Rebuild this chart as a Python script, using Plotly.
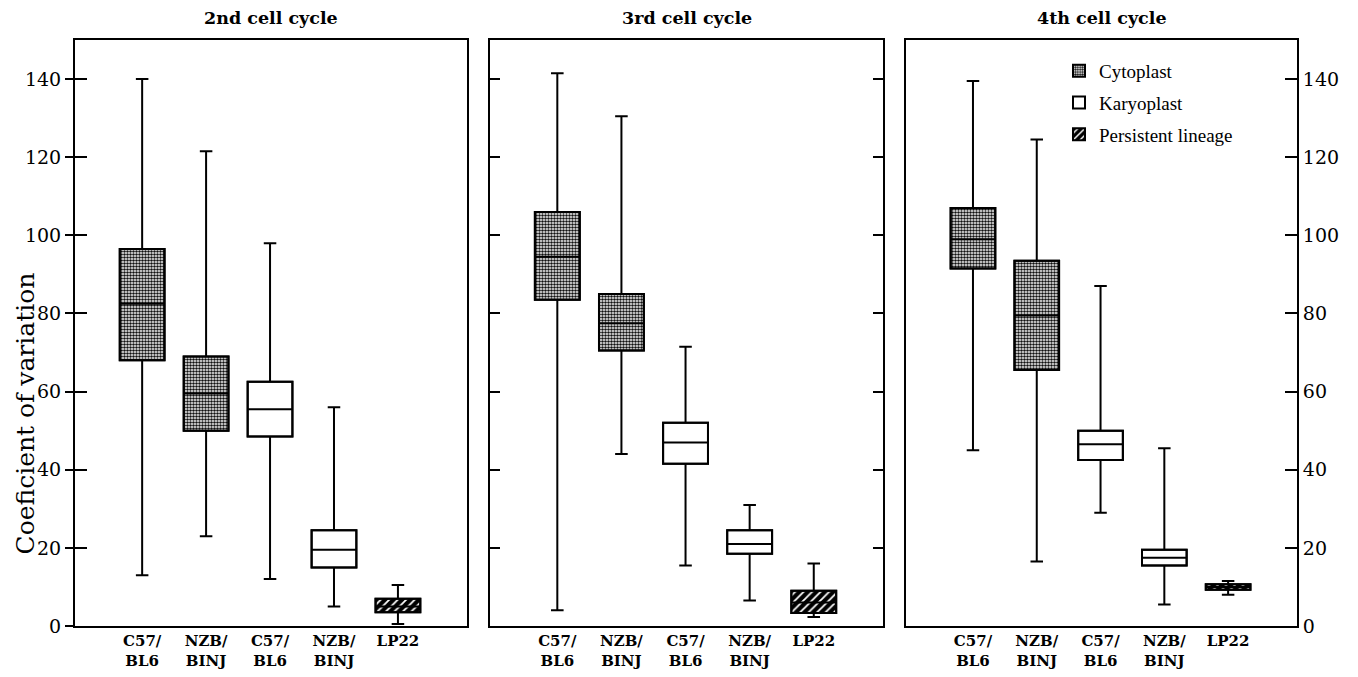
import plotly.graph_objects as go

# page is 1358x677; the HTML body has an 8px margin, so the figure is drawn 8px in
PAGE_W, PAGE_H, OFF = 1358, 677, 8
W, H = PAGE_W - 2 * OFF, PAGE_H - 2 * OFF


def fx(px):
    return (px - OFF) / W


def fy(py):
    return (H - (py - OFF)) / H


panel_titles = ["2nd cell cycle", "3rd cell cycle", "4th cell cycle"]
categories = ["C57/<br>BL6", "NZB/<br>BINJ", "C57/<br>BL6", "NZB/<br>BINJ", "LP22"]
groups = ["Cytoplast", "Cytoplast", "Karyoplast", "Karyoplast", "Persistent lineage"]

# per panel: lists over the 5 categories
upper_p1 = [140, 121.5, 98, 56, 10.5]
q3_p1 = [96.5, 69, 62.5, 24.5, 7]
med_p1 = [82.5, 59.5, 55.5, 19.5, 5]
q1_p1 = [68, 50, 48.5, 15, 3.5]
lower_p1 = [13, 23, 12, 5, 0.5]

upper_p2 = [141.5, 130.5, 71.5, 31, 16]
q3_p2 = [106, 85, 52, 24.5, 9]
med_p2 = [94.5, 77.5, 47, 21, 6]
q1_p2 = [83.5, 70.5, 41.5, 18.5, 3.3]
lower_p2 = [4, 44, 15.5, 6.5, 2.3]

upper_p3 = [139.5, 124.5, 87, 45.5, 11.5]
q3_p3 = [107, 93.5, 50, 19.5, 10.7]
med_p3 = [99, 79.5, 46.5, 17.5, 10]
q1_p3 = [91.5, 65.5, 42.5, 15.5, 9.3]
lower_p3 = [45, 16.5, 29, 5.5, 8]

panels = [
    (upper_p1, q3_p1, med_p1, q1_p1, lower_p1),
    (upper_p2, q3_p2, med_p2, q1_p2, lower_p2),
    (upper_p3, q3_p3, med_p3, q1_p3, lower_p3),
]

FONT = "DejaVu Serif"
LFONT = "Liberation Serif"

patterns = {
    "Cytoplast": dict(color="white", pattern=dict(shape=".", fgcolor="#111", bgcolor="white",
                                                   size=3, solidity=0.55, fillmode="replace")),
    "Karyoplast": dict(color="white"),
    "Persistent lineage": dict(color="black", pattern=dict(shape="/", fgcolor="white", bgcolor="black",
                                                            size=6, solidity=0.3, fillmode="replace")),
}

fig = go.Figure()

px_domains = [(75, 467), (490, 883), (906, 1297)]
ytop, ybot = 40, 626
ydom = [fy(ybot), fy(ytop)]

shown = set()
for p, (up, q3, med, q1, lo) in enumerate(panels):
    xa = "x" if p == 0 else f"x{p+1}"
    ya = "y" if p == 0 else f"y{p+1}"
    for i in range(5):
        g = groups[i]
        mk = dict(patterns[g])
        mk["line"] = dict(color="black", width=2)
        fig.add_trace(go.Bar(
            x=[i], base=[q1[i]], y=[q3[i] - q1[i]], width=0.7,
            marker=mk, name=g, legendgroup=g,
            showlegend=(g not in shown), xaxis=xa, yaxis=ya, hoverinfo="skip",
        ))
        shown.add(g)
    for i in range(5):
        fig.add_trace(go.Box(
            x=[i], q1=[q1[i]], median=[med[i]], q3=[q3[i]],
            lowerfence=[lo[i]], upperfence=[up[i]],
            width=0.7, whiskerwidth=0.28,
            fillcolor="rgba(0,0,0,0)", line=dict(color="black", width=2),
            showlegend=False, xaxis=xa, yaxis=ya, boxpoints=False,
        ))

tickvals_y = [0, 20, 40, 60, 80, 100, 120, 140]
for p in range(3):
    xd = [fx(px_domains[p][0]), fx(px_domains[p][1])]
    xkey = "xaxis" if p == 0 else f"xaxis{p+1}"
    ykey = "yaxis" if p == 0 else f"yaxis{p+1}"
    yanchor = "y" if p == 0 else f"y{p+1}"
    xanchor = "x" if p == 0 else f"x{p+1}"
    fig.layout[xkey] = dict(
        domain=xd, anchor=yanchor, range=[-1.05, 5.08],
        tickvals=list(range(5)), ticktext=categories, ticks="",
        showline=True, linecolor="black", linewidth=2, mirror=True,
        showgrid=False, zeroline=False, fixedrange=True, automargin=False,
        tickfont=dict(family=FONT, size=15, color="black", weight="bold"),
    )
    yax = dict(
        domain=ydom, anchor=xanchor, range=[0, 150], tickvals=tickvals_y,
        showline=True, linecolor="black", linewidth=2,
        showgrid=False, zeroline=False, fixedrange=True, automargin=False,
        tickfont=dict(family=FONT, size=19, color="black"),
        tickcolor="black", tickwidth=2,
    )
    if p == 0:
        yax.update(side="left", ticks="outside", ticklen=8, mirror=True, showticklabels=True)
    elif p == 1:
        yax.update(side="left", ticks="inside", ticklen=10, mirror="ticks", showticklabels=False)
    else:
        yax.update(side="right", ticks="inside", ticklen=12, mirror=True, showticklabels=True)
    fig.layout[ykey] = yax

# inner part of crossing ticks on panel 1
fig.layout["yaxis4"] = dict(
    overlaying="y", anchor="x", side="left", range=[0, 150], tickvals=tickvals_y,
    ticks="inside", ticklen=12, tickcolor="black", tickwidth=2, automargin=False,
    showticklabels=False, showgrid=False, zeroline=False, showline=False, fixedrange=True,
)
fig.add_trace(go.Scatter(x=[None], y=[None], yaxis="y4", xaxis="x", showlegend=False))

annotations = []
for p in range(3):
    cx = fx((px_domains[p][0] + px_domains[p][1]) / 2)
    annotations.append(dict(
        text=panel_titles[p], x=cx, y=fy(18), xref="paper", yref="paper",
        showarrow=False, xanchor="center", yanchor="middle",
        font=dict(family=FONT, size=17.5, color="black", weight="bold"),
    ))
annotations.append(dict(
    text="Coeficient of variation", x=fx(24.5), y=fy(414), xref="paper", yref="paper",
    showarrow=False, textangle=-90, xanchor="center", yanchor="middle", borderpad=0,
    font=dict(family=FONT, size=25, color="black"),
))

fig.update_layout(
    width=W, height=H,
    margin=dict(l=0, r=0, t=0, b=0, autoexpand=False),
    font=dict(family=FONT, color="black"),
    paper_bgcolor="white", plot_bgcolor="white",
    barmode="overlay", boxmode="overlay",
    annotations=annotations,
    legend=dict(
        x=fx(1059), y=fy(52), xanchor="left", yanchor="top",
        font=dict(family=LFONT, size=19, color="black"),
        bgcolor="rgba(0,0,0,0)", tracegroupgap=4,
    ),
    showlegend=True,
)

fig.write_html("out.html")
